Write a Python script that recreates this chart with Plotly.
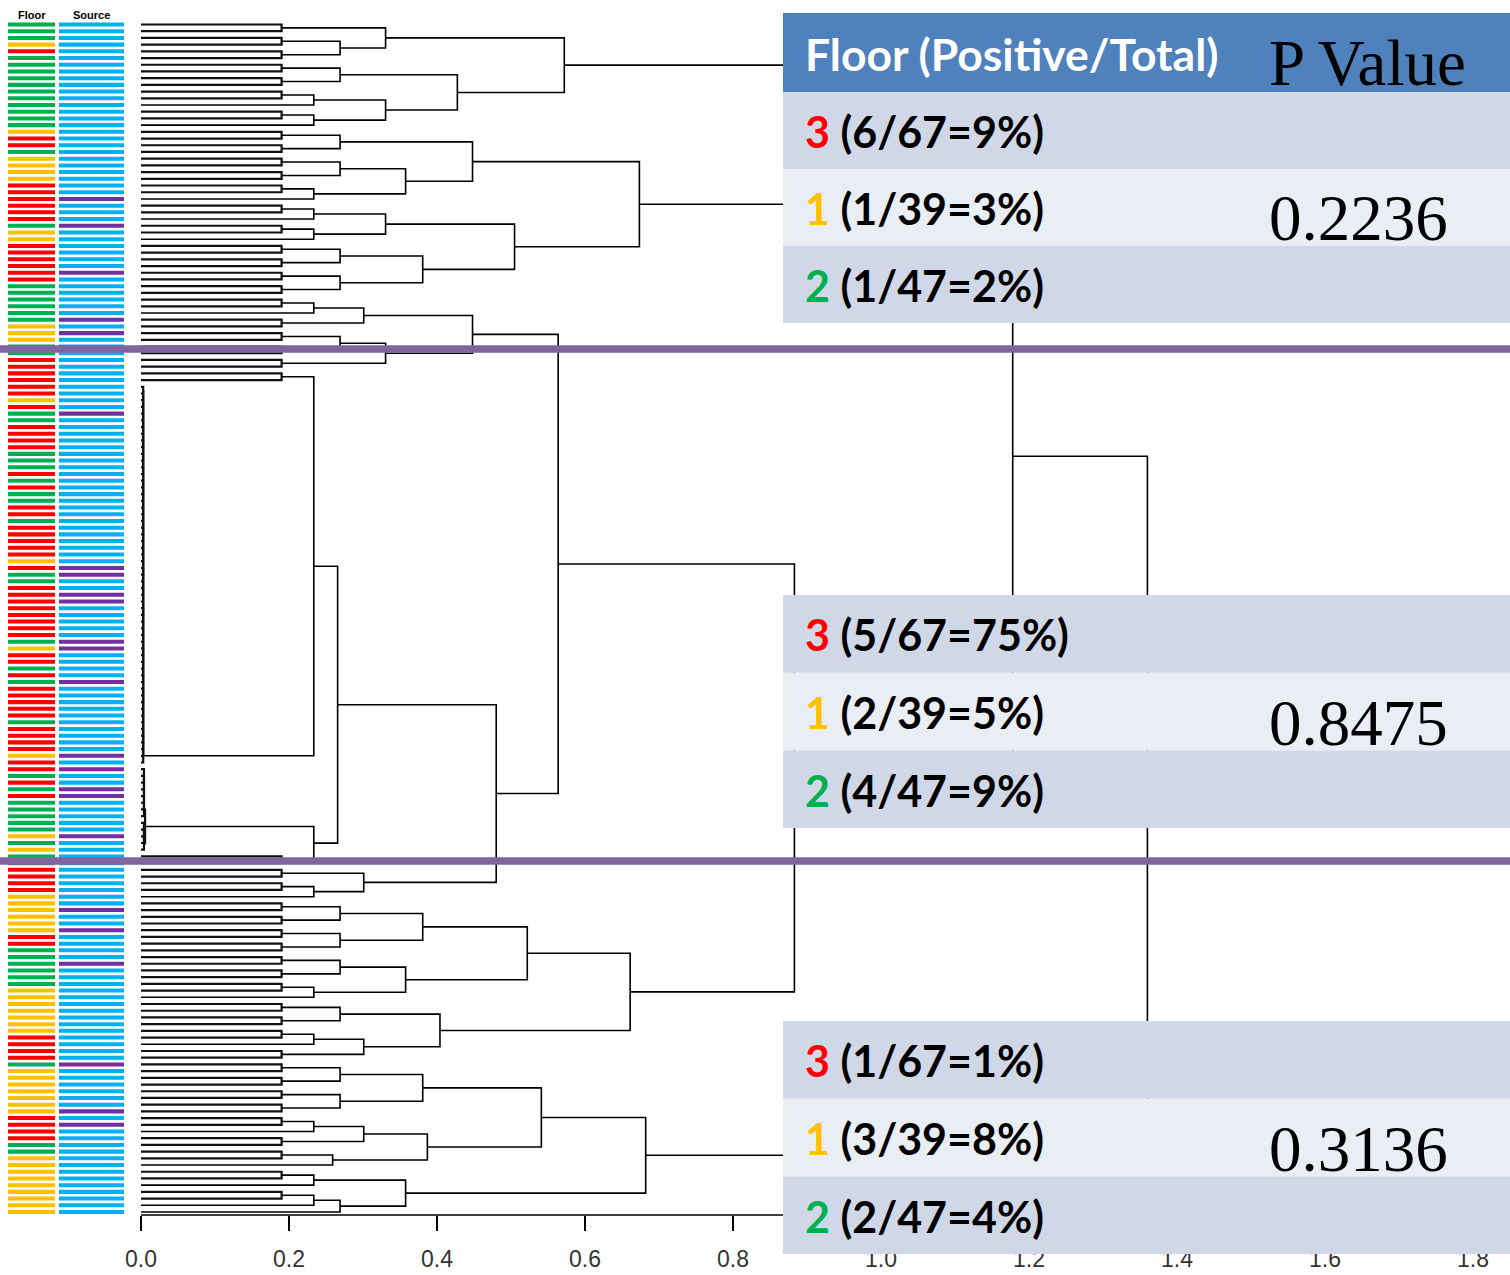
import plotly.graph_objects as go

# ---------------- data ----------------
# Floor of each sample, top to bottom (G = floor 2, Y = floor 1, R = floor 3)
floor_codes = list(
    "GGGYRGGGGGGGGGGGYRRGYYYYRRR"
    "RRRGYYRRRRRRGGGGGGYYYGGRRRRRRY"
    "RGGRRRRGGGRGRGGRRGRRRRRYRGGRR"
    "RRRRRRGYRRGRGRRRRRGRRRRYRRGRGR"
    "GGGGGYGYGGRRRRYYYYYYRRGGGGGGYY"
    "YYYYYRRRRGYYYYYYYRRRRGGYYYYYYYYY"
)
# Source of each sample (B = blue source, P = purple source)
source_codes = list(
    "BBBBBBBBBBBBBBBBBBBBBBBBBBP"
    "BBBPBBBBBBPBBBBBBPBPBBBBBBBBBB"
    "BPBBBBBBBBBBBBBBBBBBBBBBPPBBP"
    "PBBBBBPPBBBBPBBBBBBBBBBPBPBBPP"
    "BBBBBPBBBBBBBBBBPBBPBBBBPBBBBB"
    "BBBBBBBBBPBBBBBBPBPBBBBBBBBBBBBB"
)
floor_palette = {"G": "#00B050", "Y": "#FFC000", "R": "#FF0000"}
source_palette = {"B": "#00B0F0", "P": "#7030A0"}

# dendrogram (nested merges: [height, left, right]; "x" = leaf; ("comb", n, h) = chained leaves)
P = [0.19, "x", "x"]
T3 = [0.2335, P, "x"]
group1 = [0.572, [0.3305, P, [0.269, P, P]], [0.4275, [0.269, P, P], [0.3305, T3, T3]]]
group2 = [0.6735, [0.448, [0.269, P, P], [0.3576, [0.269, P, P], T3]],
          [0.5048, [0.3305, T3, T3], [0.3807, [0.269, P, P], [0.269, P, P]]]]
top_clust = [0.93, group1, group2]
group3 = [0.448, [0.301, T3, P], [0.3305, [0.269, P, P], P]]
node_g = [0.2335, P, ("comb", 57, 0.003)]
node_h = [0.2335, [0.0055, ("comb", 8, 0.004), ("comb", 5, 0.004)], P]
node_i = [0.2657, node_g, node_h]
node_j = [0.301, P, T3]
node_k = [0.48, node_i, node_j]
node_m = [0.5637, group3, node_k]
node_n = [0.522, [0.3807, [0.269, P, P], [0.269, P, P]], [0.3576, [0.269, P, P], T3]]
node_o = [0.404, [0.269, P, P], [0.301, T3, P]]
node_q = [0.661, node_n, node_o]
node_r = [0.883, node_m, node_q]
node_s1 = [0.541, [0.3807, [0.269, P, P], [0.269, P, P]], [0.387, [0.301, T3, P], [0.259, P, "x"]]]
node_s2 = [0.3576, T3, [0.269, T3, "x"]]
node_s = [0.682, node_s1, node_s2]
node_t = [1.178, top_clust, node_r]
root = [1.36, node_t, node_s]

x_ticks = [0.0, 0.2, 0.4, 0.6, 0.8, 1.0, 1.2, 1.4, 1.6, 1.8]

floor_labels = ["3", "1", "2"]
floor_label_colors = ["#FF0000", "#FFC000", "#00B050"]
cluster_counts = [["6/67=9%", "1/39=3%", "1/47=2%"],
                  ["5/67=75%", "2/39=5%", "4/47=9%"],
                  ["1/67=1%", "3/39=8%", "2/47=4%"]]
p_values = ["0.2236", "0.8475", "0.3136"]

# ---------------- geometry helpers ----------------
W, H = 1510, 1275
PLOT_B = 1215                      # pixel row of the x axis
X0_PX, PX_PER_UNIT = 141, 740.0
LEAF0_PX, LEAF_STEP = 24.5, (1212 - 24.5) / 177


def px2x(px):
    return px / W


def py2y(py):
    return (PLOT_B - py) / PLOT_B


# ---------------- dendrogram segments ----------------
counter = [0]
thick_x, thick_y, thin_x, thin_y = [], [], [], []


def seg(xs, ys, thick):
    if thick:
        thick_x.extend(xs + [None]); thick_y.extend(ys + [None])
    else:
        thin_x.extend(xs + [None]); thin_y.extend(ys + [None])


def draw(node):
    if node == "x":
        i = counter[0]
        counter[0] += 1
        return 0.0, float(i)
    if isinstance(node, tuple):
        _, n, h = node
        x0, y0 = draw("x")
        for _k in range(n - 1):
            x1, y1 = draw("x")
            seg([x0, h, h, x1], [y0, y0, y1, y1], True)
            x0, y0 = h, (y0 + y1) / 2
        return x0, y0
    h, a, b = node
    xa, ya = draw(a)
    xb, yb = draw(b)
    seg([xa, h, h, xb], [ya, ya, yb, yb], h <= 0.2)
    return h, (ya + yb) / 2


draw(root)

n = len(floor_codes)
idx = list(range(n))

fig = go.Figure()
# colour bars
fig.add_trace(go.Bar(orientation="h", y=idx, x=[(55 - 8) / PX_PER_UNIT] * n,
                     base=[(8 - X0_PX) / PX_PER_UNIT] * n, width=0.6,
                     marker=dict(color=[floor_palette[c] for c in floor_codes], line=dict(width=0)),
                     hoverinfo="skip", showlegend=False))
fig.add_trace(go.Bar(orientation="h", y=idx, x=[(124 - 59) / PX_PER_UNIT] * n,
                     base=[(59 - X0_PX) / PX_PER_UNIT] * n, width=0.6,
                     marker=dict(color=[source_palette[c] for c in source_codes], line=dict(width=0)),
                     hoverinfo="skip", showlegend=False))
# dendrogram
fig.add_trace(go.Scatter(x=thin_x, y=thin_y, mode="lines", line=dict(color="black", width=1.6),
                         hoverinfo="skip", showlegend=False))
fig.add_trace(go.Scatter(x=thick_x, y=thick_y, mode="lines", line=dict(color="#111111", width=2.2),
                         hoverinfo="skip", showlegend=False))

shapes = []
# axis line
shapes.append(dict(type="line", xref="x", yref="paper", x0=0, x1=1.8, y0=0, y1=0,
                   line=dict(color="black", width=1.5), layer="above"))
# purple separators
for py in (349, 861):
    shapes.append(dict(type="line", xref="paper", yref="paper", x0=0, x1=1,
                       y0=py2y(py), y1=py2y(py), line=dict(color="#8064A2", width=7.5), layer="above"))

row_fill = ["#D0D8E8", "#E9EDF4", "#D0D8E8"]
table_tops = [92, 595, 1021]
row_h = [77, 77.7, 77.7]


def rect(x0, x1, y0, y1, color):
    shapes.append(dict(type="rect", xref="paper", yref="paper", x0=px2x(x0), x1=px2x(x1),
                       y0=py2y(y1), y1=py2y(y0), fillcolor=color, line=dict(width=0), layer="above"))


rect(783, 1510, 13, 92, "#4F81BD")
annotations = []
for t, top in enumerate(table_tops):
    for r in range(3):
        y0 = top + r * row_h[t]
        rect(783, 1510, y0, y0 + row_h[t], row_fill[r])
        txt = (f"<b><span style='color:{floor_label_colors[r]}'>{floor_labels[r]}</span>"
               f" ({cluster_counts[t][r]})</b>")
        annotations.append(dict(xref="paper", yref="paper", x=px2x(803), y=py2y(y0 + row_h[t] / 2 + 1),
                                xanchor="left", yanchor="middle", showarrow=False, text=txt,
                                font=dict(family="Lato, sans-serif", size=43, color="black")))
    pv_y = top + row_h[t] * 1.5 + 11
    annotations.append(dict(xref="paper", yref="paper", x=px2x(1358), y=py2y(pv_y),
                            xanchor="center", yanchor="middle", showarrow=False, text=p_values[t],
                            font=dict(family="Liberation Serif, Times New Roman, serif", size=65,
                                      color="black")))

annotations.append(dict(xref="paper", yref="paper", x=px2x(803), y=py2y(53), xanchor="left",
                        yanchor="middle", showarrow=False, text="<b>Floor (Positive/Total)</b>",
                        font=dict(family="Lato, sans-serif", size=44.5, color="white")))
annotations.append(dict(xref="paper", yref="paper", x=px2x(1367), y=py2y(63), xanchor="center",
                        yanchor="middle", showarrow=False, text="P Value",
                        font=dict(family="Liberation Serif, Times New Roman, serif", size=65,
                                  color="black")))
annotations.append(dict(xref="paper", yref="paper", x=px2x(32), y=py2y(15), xanchor="center",
                        yanchor="middle", showarrow=False, text="<b>Floor</b>",
                        font=dict(family="Liberation Sans, Arial, sans-serif", size=11, color="black")))
annotations.append(dict(xref="paper", yref="paper", x=px2x(91), y=py2y(15), xanchor="center",
                        yanchor="middle", showarrow=False, text="<b>Source</b>",
                        font=dict(family="Liberation Sans, Arial, sans-serif", size=11, color="black")))

fig.update_layout(
    width=W, height=H, margin=dict(l=0, r=0, t=0, b=H - PLOT_B, pad=0),
    paper_bgcolor="white", plot_bgcolor="white", barmode="overlay", showlegend=False,
    shapes=shapes, annotations=annotations,
    xaxis=dict(range=[-X0_PX / PX_PER_UNIT, (W - X0_PX) / PX_PER_UNIT], showgrid=False,
               zeroline=False, showline=False, ticks="outside", ticklen=15, tickwidth=1.5,
               tickcolor="black", tickvals=x_ticks, tickformat=".1f", ticklabelstandoff=8,
               tickfont=dict(family="Liberation Sans Narrow, Arial Narrow, sans-serif", size=23,
                             color="#333333")),
    yaxis=dict(range=[(PLOT_B - LEAF0_PX) / LEAF_STEP, -LEAF0_PX / LEAF_STEP], showgrid=False,
               zeroline=False, showline=False, showticklabels=False, ticks=""),
)

fig.write_html("out.html", config={"displayModeBar": False},
               post_script="document.body.style.margin='0px';document.body.style.padding='0px';")
